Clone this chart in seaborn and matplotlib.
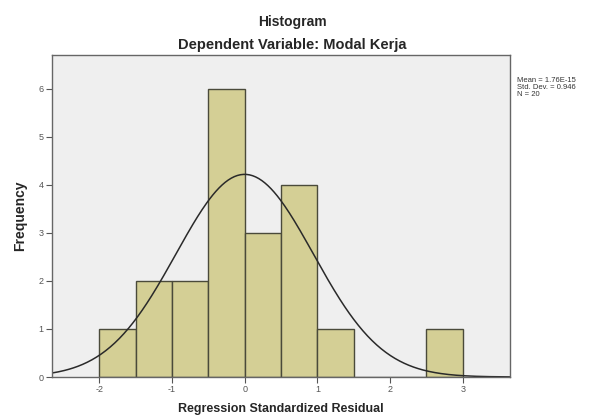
import numpy as np
import pandas as pd
import matplotlib
matplotlib.use("Agg")
import matplotlib.pyplot as plt
import seaborn as sns

# bin edges and counts
bin_edges = [-2.0, -1.5, -1.0, -0.5, 0.0, 0.5, 1.0, 1.5, 2.0, 2.5, 3.0]
bin_counts = [1, 2, 2, 6, 3, 4, 1, 0, 0, 1]
x_ticks = [-2, -1, 0, 1, 2, 3]
y_ticks = [0, 1, 2, 3, 4, 5, 6]
resid_mean = 1.76e-15
resid_sd = 0.946
n_obs = 20

sns.set_style("white")
plt.rcParams['font.family'] = ['Liberation Sans', 'DejaVu Sans']

centers = [(a + b) / 2 for a, b in zip(bin_edges[:-1], bin_edges[1:])]
df = pd.DataFrame({"resid": centers, "count": bin_counts})

fig = plt.figure(figsize=(6.06, 4.17), dpi=100)
ax = fig.add_axes([0.0858, 0.0959, 0.7558, 0.7721])
ax.set_facecolor("#efefef")

sns.histplot(data=df, x="resid", weights="count", bins=bin_edges,
             color="#d4cf95", edgecolor="#4a4a3a", linewidth=1.0, alpha=1.0, ax=ax)

# fitted normal curve, scaled to counts
xs = np.linspace(-2.65, 3.65, 300)
bw = bin_edges[1] - bin_edges[0]
ys = n_obs * bw / (resid_sd * np.sqrt(2 * np.pi)) * np.exp(-0.5 * ((xs - resid_mean) / resid_sd) ** 2)
sns.lineplot(x=xs, y=ys, color="#2a2a2a", linewidth=1.1, ax=ax)

ax.set_xlim(-2.65, 3.65)
ax.set_ylim(0, 6.7)
ax.set_xticks(x_ticks)
ax.set_yticks(y_ticks)
ax.set_xticklabels([str(t) for t in x_ticks], fontsize=6.5, color="#555555")
ax.set_yticklabels([str(t) for t in y_ticks], fontsize=6.5, color="#555555")
ax.tick_params(axis="both", direction="out", length=4, width=0.8, color="#555555", pad=2)
ax.tick_params(axis="x", bottom=True)
ax.tick_params(axis="y", left=True)
for s in ax.spines.values():
    s.set_color("#666666")
    s.set_linewidth(1.0)

ax.set_xlabel("Regression Standardized Residual", fontsize=9, fontweight="bold", labelpad=6)
ax.set_ylabel("Frequency", fontsize=10, fontweight="bold", labelpad=8)

fig.text(0.483, 0.948, "Histogram", ha="center", va="center", fontsize=10, fontweight="bold")
fig.text(0.483, 0.892, "Dependent Variable: Modal Kerja", ha="center", va="center",
         fontsize=10.5, fontweight="bold")

stats_txt = "Mean = 1.76E-15\nStd. Dev. = 0.946\nN = %d" % n_obs
fig.text(0.853, 0.815, stats_txt, ha="left", va="top", fontsize=5.5, color="#333333",
         linespacing=1.0)

fig.savefig("out.png", dpi=100)
